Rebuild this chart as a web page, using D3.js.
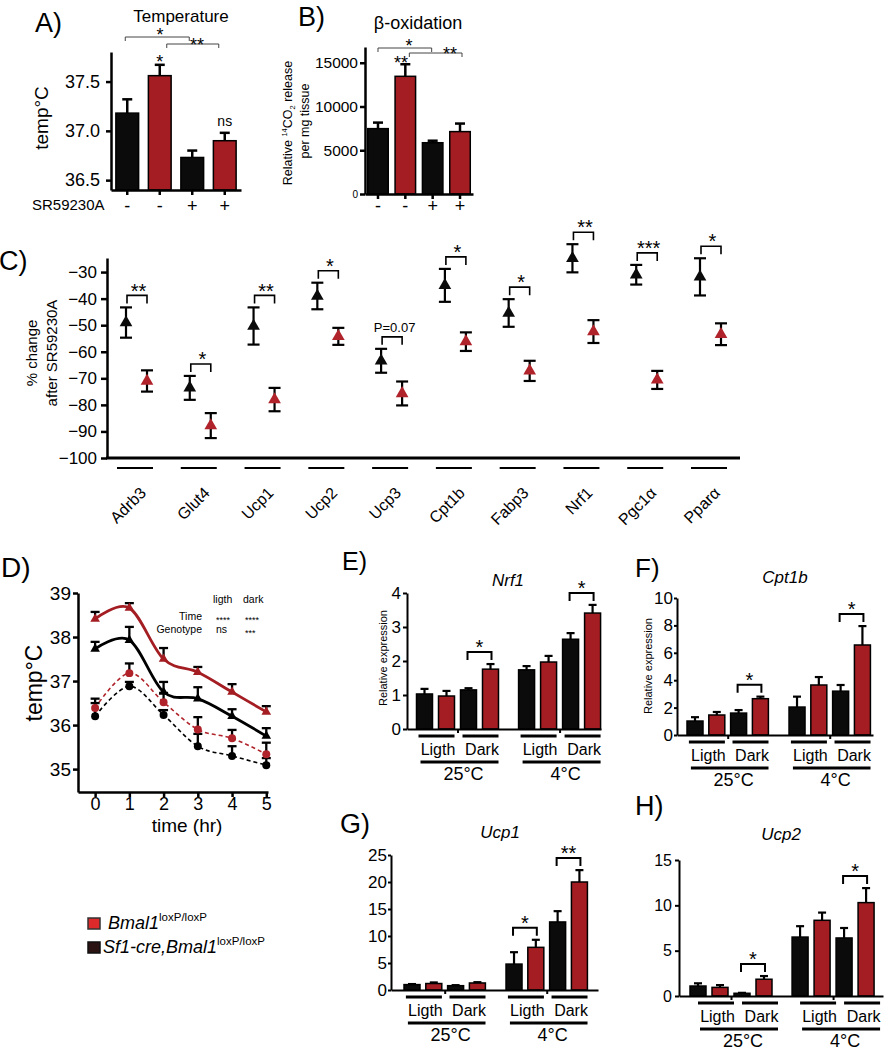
<!DOCTYPE html>
<html><head><meta charset="utf-8">
<script src="https://cdn.jsdelivr.net/npm/d3@7"></script>
<style>
body{margin:0;background:#fff;}
svg{display:block;font-family:Arial,"Liberation Sans",Helvetica,sans-serif;}
</style></head><body>
<svg id="fig" width="884" height="1050"></svg>
<script>
// ================= DATA =================
const treatLabels = ["-","-","+","+"];
// A) temperature
const tempA = [37.18, 37.56, 36.73, 36.90];
const tempAErr = [0.14, 0.11, 0.07, 0.08];
const tempATicks = [36.5, 37.0, 37.5];
// B) beta-oxidation
const betaOx = [7470, 13450, 5860, 7130];
const betaOxErr = [690, 1380, 230, 920];
const betaOxTicks = [0, 5000, 10000, 15000];
// C) % change after SR59230A
const genes = ["Adrb3","Glut4","Ucp1","Ucp2","Ucp3","Cpt1b","Fabp3","Nrf1","Pgc1α","Pparα"];
const changeKO = [-49.0, -73.6, -50.3, -39.0, -63.4, -35.0, -45.4, -24.8, -31.0, -31.8];
const changeKOErr = [5.7, 4.5, 7.0, 5.0, 4.5, 6.2, 5.2, 5.3, 3.7, 7.0];
const changeCtl = [-71.0, -87.8, -78.0, -54.2, -75.7, -56.2, -67.2, -52.4, -70.6, -53.4];
const changeCtlErr = [4.0, 4.7, 4.4, 3.2, 4.5, 3.5, 3.8, 4.3, 3.4, 4.1];
const changeSig = ["**","*","**","*","P=0.07","*","*","**","***","*"];
const changeTicks = [-100,-90,-80,-70,-60,-50,-40,-30];
// D) temperature time course
const hours = [0, 1, 2, 3, 4, 5];
const darkCtl = [38.41, 38.66, 37.50, 37.20, 36.75, 36.30];
const darkCtlErr = [0.16, 0.11, 0.25, 0.12, 0.18, 0.13];
const darkKO = [37.73, 37.93, 36.75, 36.60, 36.20, 35.75];
const darkKOErr = [0.16, 0.30, 0.23, 0.26, 0.16, 0.18];
const lightCtl = [36.39, 37.18, 36.52, 35.90, 35.70, 35.34];
const lightCtlErr = [0.21, 0.22, 0.21, 0.28, 0.19, 0.26];
const lightKO = [36.20, 36.88, 36.23, 35.52, 35.30, 35.09];
const lightKOErr = [0.30, 0.10, 0.11, 0.28, 0.22, 0.16];
const tempDTicks = [35, 36, 37, 38, 39];
// E-H) relative expression (order: 25°C light KO, Ctl, dark KO, Ctl, 4°C light KO, Ctl, dark KO, Ctl)
const nrf1 = [1.03, 0.97, 1.15, 1.76, 1.74, 1.97, 2.64, 3.41];
const nrf1Err = [0.15, 0.15, 0.05, 0.15, 0.11, 0.18, 0.18, 0.24];
const nrf1Sig = [[2,3,"*"],[6,7,"*"]];
const cpt1b = [1.02, 1.46, 1.60, 2.65, 2.04, 3.65, 3.20, 6.57];
const cpt1bErr = [0.28, 0.22, 0.22, 0.15, 0.76, 0.58, 0.45, 1.38];
const cpt1bSig = [[2,3,"*"],[6,7,"*"]];
const ucp1 = [1.0, 1.2, 0.8, 1.3, 4.8, 7.9, 12.6, 20.0];
const ucp1Err = [0.1, 0.2, 0.1, 0.15, 2.2, 1.4, 2.0, 2.2];
const ucp1Sig = [[4,5,"*"],[6,7,"**"]];
const ucp2 = [1.1, 0.95, 0.3, 1.85, 6.5, 8.35, 6.4, 10.3];
const ucp2Err = [0.3, 0.25, 0.05, 0.35, 1.2, 0.85, 1.1, 1.6];
const ucp2Sig = [[2,3,"*"],[6,7,"*"]];

// ================= HELPERS =================
const FONT = 'Arial, "Liberation Sans", Helvetica, sans-serif';
const RED = "#a31d22", BLK = "#0b0b0b";
const svg = d3.select("#fig");
const fmtInt = d3.format("d");

function text(g, x, y, s, fs, anchor="start", opt={}) {
  const t = g.append("text").attr("x", x).attr("y", y).attr("font-size", fs)
    .attr("text-anchor", anchor).attr("fill", opt.fill || "#000").text(s);
  if (opt.italic) t.attr("font-style", "italic");
  if (opt.rot) t.attr("transform", `rotate(${opt.rot},${x},${y})`);
  return t;
}
function hline(g, x1, x2, y, w=2, c="#000") {
  g.append("line").attr("x1", x1).attr("x2", x2).attr("y1", y).attr("y2", y)
    .attr("stroke", c).attr("stroke-width", w);
}
function bracket(g, x1, x2, yTop, leg, w=2, c="#000") {
  g.append("path").attr("d", `M${x1},${yTop+leg}V${yTop}H${x2}V${yTop+leg}`)
    .attr("fill", "none").attr("stroke", c).attr("stroke-width", w);
}
function stars(g, x, cy, s, fs=20) {
  text(g, x, cy + fs*0.56, s, fs, "middle");
}
function styleAxis(a, w, fs) {
  a.attr("font-family", FONT).attr("font-size", fs);
  a.select(".domain").attr("stroke-width", w).attr("stroke", "#000");
  a.selectAll(".tick line").attr("stroke-width", w).attr("stroke", "#000");
  a.selectAll(".tick text").attr("fill", "#000");
}
function errUp(g, xs, vals, errs, y, cap, w) {
  vals.forEach((v, i) => {
    const y0 = y(v), y1 = y(v + errs[i]);
    g.append("line").attr("x1", xs[i]).attr("x2", xs[i]).attr("y1", y0).attr("y2", y1)
      .attr("stroke", "#000").attr("stroke-width", w);
    g.append("line").attr("x1", xs[i]-cap/2).attr("x2", xs[i]+cap/2).attr("y1", y1).attr("y2", y1)
      .attr("stroke", "#000").attr("stroke-width", w);
  });
}

// ================= PANEL A =================
{
  const g = svg.append("g");
  const x = d3.scaleBand().domain(d3.range(4)).range([111, 241]).paddingInner(0.3).paddingOuter(0.15);
  const y = d3.scaleLinear().domain([36.4, 37.8]).range([190, 52]);
  const cx = i => x(i) + x.bandwidth()/2;
  g.selectAll("rect").data(tempA).join("rect")
    .attr("x", (d,i) => x(i)).attr("width", x.bandwidth())
    .attr("y", d => y(d)).attr("height", d => 190 - y(d))
    .attr("fill", (d,i) => i%2 ? RED : BLK).attr("stroke", "#000").attr("stroke-width", 1.5);
  errUp(g, tempA.map((d,i)=>cx(i)), tempA, tempAErr, y, 10, 2.5);
  const ya = g.append("g").attr("transform", "translate(111,0)")
    .call(d3.axisLeft(y).tickValues(tempATicks).tickFormat(d3.format(".1f")).tickSize(5).tickPadding(6).tickSizeOuter(0));
  styleAxis(ya, 2.5, 18);
  const xa = g.append("g").attr("transform", "translate(0,190)")
    .call(d3.axisBottom(x).tickSize(5).tickPadding(4).tickSizeOuter(0).tickFormat((d,i) => treatLabels[i]));
  styleAxis(xa, 2.5, 18);
  text(g, 32, 210, "SR59230A", 15);
  text(g, 35, 32, "A)", 27);
  text(g, 181, 22, "Temperature", 17, "middle");
  text(g, 48, 118, "temp°C", 19, "middle", {rot: -90});
  bracket(g, cx(0)-2, cx(2)-3, 37, 4, 1, "#444");
  stars(g, 160, 31, "*", 18);
  bracket(g, cx(1)+7, cx(3)-6, 44, 4, 1, "#444");
  stars(g, 197, 41, "**", 18);
  stars(g, cx(1), 58, "*", 18);
  text(g, cx(3), 126, "ns", 14, "middle");
}

// ================= PANEL B =================
{
  const g = svg.append("g");
  const x = d3.scaleBand().domain(d3.range(4)).range([365, 473]).paddingInner(0.25).paddingOuter(0.1);
  const y = d3.scaleLinear().domain([0, 16800]).range([194, 47]);
  const cx = i => x(i) + x.bandwidth()/2;
  g.selectAll("rect").data(betaOx).join("rect")
    .attr("x", (d,i) => x(i)).attr("width", x.bandwidth())
    .attr("y", d => y(d)).attr("height", d => 194 - y(d))
    .attr("fill", (d,i) => i%2 ? RED : BLK).attr("stroke", "#000").attr("stroke-width", 1.5);
  errUp(g, betaOx.map((d,i)=>cx(i)), betaOx, betaOxErr, y, 10, 2.5);
  const ya = g.append("g").attr("transform", "translate(365,0)")
    .call(d3.axisLeft(y).tickValues(betaOxTicks).tickFormat(fmtInt).tickSize(5).tickPadding(2).tickSizeOuter(0));
  styleAxis(ya, 2.5, 15.5);
  ya.selectAll(".tick text").filter(d => d === 0).attr("font-size", 10);
  const xa = g.append("g").attr("transform", "translate(0,194)")
    .call(d3.axisBottom(x).tickSize(5).tickPadding(0).tickSizeOuter(0).tickFormat((d,i) => treatLabels[i]));
  styleAxis(xa, 2.5, 18);
  text(g, 298, 26, "B)", 27);
  text(g, 418, 29, "β-oxidation", 18, "middle");
  const t1 = g.append("text").attr("x", 292).attr("y", 123).attr("font-size", 12.5)
    .attr("text-anchor", "middle").attr("transform", "rotate(-90,292,123)");
  t1.append("tspan").text("Relative ");
  t1.append("tspan").attr("font-size", 7.5).attr("dy", -5).text("14");
  t1.append("tspan").attr("dy", 5).text("CO");
  t1.append("tspan").attr("font-size", 7.5).attr("dy", 3).text("2");
  t1.append("tspan").attr("dy", -3).text(" release");
  text(g, 309, 121, "per mg tissue", 12.5, "middle", {rot: -90});
  bracket(g, cx(0), cx(2)-1, 48, 4, 1, "#444");
  stars(g, 409, 42, "*", 18);
  bracket(g, cx(1)+4, cx(3)+2, 53, 4, 1, "#444");
  stars(g, 450, 50, "**", 18);
  stars(g, 401, 59, "**", 18);
}

// ================= PANEL C =================
{
  const g = svg.append("g");
  const x = d3.scalePoint().domain(genes).range([135, 709]);
  const y = d3.scaleLinear().domain([-100, -24.7]).range([458, 258]);
  const xK = d => x(d) - 9, xC = d => x(d) + 12;
  const ya = g.append("g").attr("transform", "translate(107,0)")
    .call(d3.axisLeft(y).tickValues(changeTicks).tickFormat(fmtInt).tickSize(6).tickPadding(4).tickSizeOuter(0));
  styleAxis(ya, 2.5, 17);
  hline(g, 106, 740, 458, 3);
  const tri = d3.symbol(d3.symbolTriangle).size(70);
  function errBoth(xf, vals, errs) {
    genes.forEach((gn, i) => {
      const xx = xf(gn), yt = y(vals[i] + errs[i]), yb = y(vals[i] - errs[i]);
      g.append("line").attr("x1", xx).attr("x2", xx).attr("y1", yt).attr("y2", yb).attr("stroke", "#000").attr("stroke-width", 2.2);
      hline(g, xx-6, xx+6, yt, 2.2);
      hline(g, xx-6, xx+6, yb, 2.2);
    });
  }
  errBoth(xK, changeKO, changeKOErr);
  errBoth(xC, changeCtl, changeCtlErr);
  g.selectAll("path.k").data(changeKO).join("path").attr("class", "k")
    .attr("d", tri).attr("fill", BLK)
    .attr("transform", (d,i) => `translate(${xK(genes[i])},${y(d)})`);
  g.selectAll("path.c").data(changeCtl).join("path").attr("class", "c")
    .attr("d", tri).attr("fill", "#b0232a")
    .attr("transform", (d,i) => `translate(${xC(genes[i])},${y(d)})`);
  genes.forEach((gn, i) => {
    const top = y(changeKO[i] + changeKOErr[i]) - 12;
    bracket(g, xK(gn)+1, xC(gn), top, 8, 1.6);
    if (changeSig[i].startsWith("P")) text(g, (xK(gn)+xC(gn))/2 + 3, top - 5, changeSig[i], 13, "middle");
    else stars(g, (xK(gn)+xC(gn))/2 + 2, top - 9, changeSig[i], 20);
    hline(g, x(gn)-18, x(gn)+18, 468, 2);
    text(g, x(gn)+12, 494, gn, 16, "end", {rot: -45});
  });
  text(g, -1, 270, "C)", 27);
  text(g, 37, 353, "% change", 15, "middle", {rot: -90});
  text(g, 57, 353, "after SR59230A", 15, "middle", {rot: -90});
}

// ================= PANEL D =================
{
  const g = svg.append("g");
  const x = d3.scaleLinear().domain([-0.5, 5.05]).range([78, 268]);
  const y = d3.scaleLinear().domain([34.48, 39]).range([792, 593]);
  const series = [
    {v: lightKO, e: lightKOErr, c: "#000", dash: "4,3", w: 1.6, sym: "c"},
    {v: lightCtl, e: lightCtlErr, c: "#b0232a", dash: "4,3", w: 1.6, sym: "c"},
    {v: darkKO, e: darkKOErr, c: "#000", dash: null, w: 2.8, sym: "t"},
    {v: darkCtl, e: darkCtlErr, c: "#a31d22", dash: null, w: 2.8, sym: "t"}
  ];
  const ln = d3.line().x((d,i) => x(hours[i])).y(d => y(d)).curve(d3.curveCardinal.tension(0));
  series.forEach(s => {
    g.append("path").attr("d", ln(s.v)).attr("fill", "none").attr("stroke", s.c)
      .attr("stroke-width", s.w).attr("stroke-dasharray", s.dash);
  });
  series.forEach(s => errUp(g, hours.map(h => x(h)), s.v, s.e, y, 9, 2.3));
  const tri = d3.symbol(d3.symbolTriangle).size(40);
  const circ = d3.symbol(d3.symbolCircle).size(50);
  series.forEach(s => {
    g.append("g").selectAll("path").data(s.v).join("path")
      .attr("d", s.sym === "t" ? tri : circ).attr("fill", s.c)
      .attr("transform", (d,i) => `translate(${x(hours[i])},${y(d)})`);
  });
  const ya = g.append("g").attr("transform", "translate(78,0)")
    .call(d3.axisLeft(y).tickValues(tempDTicks).tickFormat(fmtInt).tickSize(5).tickPadding(2).tickSizeOuter(0));
  styleAxis(ya, 2.5, 19);
  const xa = g.append("g").attr("transform", "translate(0,792)")
    .call(d3.axisBottom(x).tickValues(hours).tickFormat(fmtInt).tickSize(5).tickPadding(0).tickSizeOuter(0));
  styleAxis(xa, 2.5, 18);
  text(g, 1, 577, "D)", 28);
  text(g, 187, 832, "time (hr)", 19, "middle");
  text(g, 42, 683, "temp°C", 23, "middle", {rot: -90});
  text(g, 213, 603, "ligth", 10.5);
  text(g, 243, 603, "dark", 10.5);
  text(g, 202, 620, "Time", 10.5, "end");
  text(g, 202, 633, "Genotype", 10.5, "end");
  text(g, 216, 623, "****", 9);
  text(g, 245, 623, "****", 9);
  text(g, 216, 633, "ns", 10.5);
  text(g, 245, 636, "***", 9);
  // legend
  g.append("rect").attr("x", 88).attr("y", 918).attr("width", 12).attr("height", 11)
    .attr("fill", "#de2a2a").attr("stroke", "#333").attr("stroke-width", 1.5);
  g.append("rect").attr("x", 88).attr("y", 942).attr("width", 12).attr("height", 11)
    .attr("fill", "#2b1313").attr("stroke", "#111").attr("stroke-width", 1.5);
  const l1 = text(g, 108, 929, "Bmal1", 18, "start", {italic: true});
  l1.append("tspan").attr("font-size", 11.5).attr("font-style", "normal").attr("dy", -8).text("loxP/loxP");
  const l2 = text(g, 103, 953, "Sf1-cre,Bmal1", 18, "start", {italic: true});
  l2.append("tspan").attr("font-size", 11.5).attr("font-style", "normal").attr("dy", -8).text("loxP/loxP");
}

// ================= PANELS E-H =================
function exprPanel(o) {
  const g = svg.append("g");
  const slots = o.vals.map((d,i) => i + (i >= 4 ? o.gap : 0));
  const x = d3.scaleLinear().domain([(o.ax0 - o.x0)/o.step, (o.ax1 - o.x0)/o.step]).range([o.ax0, o.ax1]);
  const y = d3.scaleLinear().domain(o.yDomain).range(o.yRange);
  const base = o.yRange[0];
  g.selectAll("rect").data(o.vals).join("rect")
    .attr("x", (d,i) => x(slots[i]) - o.bw/2).attr("width", o.bw)
    .attr("y", d => y(d)).attr("height", d => base - y(d))
    .attr("fill", (d,i) => i%2 ? RED : BLK).attr("stroke", "#000").attr("stroke-width", 1.5);
  errUp(g, slots.map(s => x(s)), o.vals, o.errs, y, 8, 2.2);
  const ya = g.append("g").attr("transform", `translate(${o.ax0},0)`)
    .call(d3.axisLeft(y).tickValues(o.ticks).tickFormat(fmtInt).tickSize(o.ts).tickPadding(o.tp).tickSizeOuter(0));
  styleAxis(ya, 2, o.tfs);
  const xa = g.append("g").attr("transform", `translate(0,${base})`)
    .call(d3.axisBottom(x).tickValues([(slots[1]+slots[2])/2, (slots[5]+slots[6])/2])
      .tickSize(4).tickFormat("").tickSizeOuter(0));
  styleAxis(xa, 2, 10);
  o.sig.forEach(([i, j, lab]) => {
    const top = Math.min(y(o.vals[i] + o.errs[i]), y(o.vals[j] + o.errs[j])) - 12;
    bracket(g, x(slots[i]) - 1, x(slots[j]) + 1, top, 8, 2);
    stars(g, (x(slots[i]) + x(slots[j]))/2, top - 9, lab, 20);
  });
  [[0,"Ligth"],[2,"Dark"],[4,"Ligth"],[6,"Dark"]].forEach(([i, lab]) => {
    const c = (x(slots[i]) + x(slots[i+1]))/2 + o.shift;
    hline(g, c - 18, c + 18, base + 7, 3);
    text(g, c + 1.5, base + 26, lab, 16, "middle");
  });
  [[0,"25°C"],[4,"4°C"]].forEach(([i, lab]) => {
    const a = (x(slots[i]) + x(slots[i+1]))/2 + o.shift - 16;
    const b = (x(slots[i+2]) + x(slots[i+3]))/2 + o.shift + 18;
    hline(g, a, b, base + 33, 3);
    text(g, (a + b)/2 + 4, base + 51, lab, 18, "middle");
  });
  text(g, o.lx, o.ly, o.letter, o.lfs);
  text(g, o.tx, o.ty, o.title, 17, "middle", {italic: true});
  if (o.ylab) text(g, o.ylab[0], o.ylab[1], "Relative expression", 11, "middle", {rot: -90});
}

exprPanel({vals: nrf1, errs: nrf1Err, sig: nrf1Sig, x0: 424.5, step: 22, gap: 0.64, bw: 16,
  ax0: 407, ax1: 601, yDomain: [0, 4], yRange: [729, 593], ticks: [0,1,2,3,4], ts: 4, tp: 2, tfs: 17,
  shift: 1, letter: "E)", lx: 342, ly: 570, lfs: 25, title: "Nrf1", tx: 508, ty: 586, ylab: [387, 658]});
exprPanel({vals: cpt1b, errs: cpt1bErr, sig: cpt1bSig, x0: 695, step: 21.8, gap: 0.68, bw: 16,
  ax0: 677, ax1: 873, yDomain: [0, 10], yRange: [735, 598], ticks: [0,2,4,6,8,10], ts: 3, tp: 1, tfs: 17,
  shift: 1, letter: "F)", lx: 635, ly: 577, lfs: 26, title: "Cpt1b", tx: 785, ty: 583, ylab: [652, 666]});
exprPanel({vals: ucp1, errs: ucp1Err, sig: ucp1Sig, x0: 412, step: 21.8, gap: 0.68, bw: 16,
  ax0: 391, ax1: 598, yDomain: [0, 25], yRange: [990, 855], ticks: [0,5,10,15,20,25], ts: 3, tp: 1, tfs: 17,
  shift: 1, letter: "G)", lx: 340, ly: 833, lfs: 27, title: "Ucp1", tx: 500, ty: 838, ylab: null});
exprPanel({vals: ucp2, errs: ucp2Err, sig: ucp2Sig, x0: 698, step: 22, gap: 0.64, bw: 16,
  ax0: 679, ax1: 883, yDomain: [0, 15], yRange: [996, 860], ticks: [0,5,10,15], ts: 4, tp: 3, tfs: 16,
  shift: 7, letter: "H)", lx: 635, ly: 815, lfs: 27, title: "Ucp2", tx: 781, ty: 840, ylab: null});
</script>
</body></html>
